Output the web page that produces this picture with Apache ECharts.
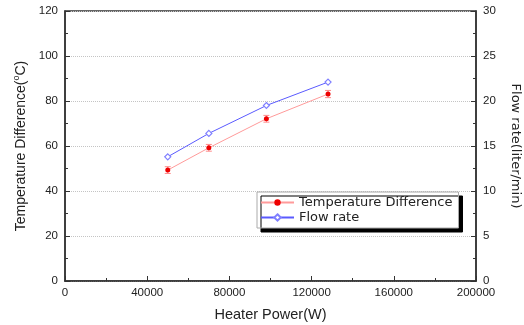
<!DOCTYPE html>
<html><head><meta charset="utf-8">
<script src="https://cdn.jsdelivr.net/npm/echarts@6/dist/echarts.min.js"></script>
<style>html,body{margin:0;padding:0;background:#fff}#c{width:524px;height:325px}</style>
</head><body><div id="c"></div>
<script>
var power = [50000, 70000, 98000, 128000];
var tempDiff = [49.3, 59.2, 72.1, 83.1];
var tempErr = [1.5, 1.5, 1.5, 1.6];
var flowRate = [13.8, 16.4, 19.5, 22.1];
var xTicks = [0, 40000, 80000, 120000, 160000, 200000];
var leftTicks = [0, 20, 40, 60, 80, 100, 120];
var rightTicks = [0, 5, 10, 15, 20, 25, 30];

var FONT = 'Liberation Sans';
var chart = echarts.init(document.getElementById('c'), null, {renderer: 'canvas'});
var axisLine = {lineStyle: {color: '#333', width: 1.5}};
var tempData = power.map(function (p, i) { return [p, tempDiff[i]]; });
var flowData = power.map(function (p, i) { return [p, flowRate[i]]; });
var errData = power.map(function (p, i) { return [p, tempDiff[i] - tempErr[i], tempDiff[i] + tempErr[i]]; });

chart.setOption({
  animation: false,
  textStyle: {fontFamily: FONT},
  grid: {left: 65, right: 48, top: 11, bottom: 44, show: true, borderColor: '#333', borderWidth: 1.5, containLabel: false, outerBoundsMode: 'none'},
  legend: {
    orient: 'vertical', left: 257, top: 192,
    backgroundColor: '#fff', borderColor: '#aaa', borderWidth: 1,
    shadowColor: '#000', shadowBlur: 0, shadowOffsetX: 4, shadowOffsetY: 4,
    padding: [4, 6, 4, 3], itemGap: 2, itemWidth: 33, itemHeight: 8,
    textStyle: {fontFamily: 'DejaVu Sans', fontSize: 13, color: '#222'},
    data: ['Temperature Difference', 'Flow rate']
  },
  xAxis: {
    type: 'value', min: xTicks[0], max: xTicks[xTicks.length - 1], interval: 40000,
    name: 'Heater Power(W)', nameLocation: 'middle', nameGap: 26,
    nameTextStyle: {fontSize: 14.5, color: '#222', fontFamily: FONT},
    axisLine: axisLine,
    axisTick: {inside: true, length: 5, lineStyle: {color: '#333'}},
    minorTick: {show: true, splitNumber: 2, length: 3, lineStyle: {color: '#333'}},
    axisLabel: {fontSize: 11.5, color: '#222', margin: 6, formatter: function (v) { return String(v); }},
    splitLine: {show: false}
  },
  yAxis: [{
    type: 'value', min: leftTicks[0], max: leftTicks[leftTicks.length - 1], interval: 20,
    name: 'Temperature Difference({s|o}C)', nameLocation: 'middle', nameGap: 33,
    nameTextStyle: {fontSize: 14, color: '#222', fontFamily: FONT, rich: {s: {fontSize: 9, verticalAlign: 'top', padding: [0, 0, 8, 0], color: '#222', fontFamily: FONT}}},
    axisLine: axisLine,
    axisTick: {inside: true, length: 5, lineStyle: {color: '#333'}},
    minorTick: {show: true, splitNumber: 2, length: 3, lineStyle: {color: '#333'}},
    axisLabel: {fontSize: 11.5, color: '#222', margin: 7},
    splitLine: {show: true, lineStyle: {type: 'dotted', color: '#c4c4c4', width: 1}}
  }, {
    type: 'value', position: 'right', min: rightTicks[0], max: rightTicks[rightTicks.length - 1], interval: 5,
    name: 'Flow rate(liter/min)', nameLocation: 'middle', nameGap: 33, nameRotate: -90,
    nameTextStyle: {fontSize: 13, color: '#222', fontFamily: 'DejaVu Sans'},
    axisLine: {show: true, lineStyle: {color: '#333', width: 1.5}},
    axisTick: {inside: true, length: 5, lineStyle: {color: '#333'}},
    minorTick: {show: true, splitNumber: 2, length: 3, lineStyle: {color: '#333'}},
    axisLabel: {fontSize: 11.5, color: '#222', margin: 7},
    splitLine: {show: false}
  }],
  series: [{
    name: 'Temperature Difference', type: 'line', data: tempData, yAxisIndex: 0,
    symbol: 'circle', symbolSize: 5,
    lineStyle: {color: '#ff9a9a', width: 1},
    itemStyle: {color: '#ee0000'}, color: '#ee0000'
  }, {
    name: 'Flow rate', type: 'line', data: flowData, yAxisIndex: 1,
    symbol: 'diamond', symbolSize: 6,
    lineStyle: {color: '#5a5aff', width: 1},
    itemStyle: {color: '#fff', borderColor: '#8080ff', borderWidth: 1.2}, color: '#5a5aff'
  }, {
    name: 'err', type: 'custom', yAxisIndex: 0, data: errData,
    encode: {x: 0, y: [1, 2]},
    renderItem: function (params, api) {
      var x = api.value(0);
      var lo = api.coord([x, api.value(1)]);
      var hi = api.coord([x, api.value(2)]);
      var w = 3;
      var st = {stroke: '#ff8a8a', lineWidth: 1};
      return {type: 'group', children: [
        {type: 'line', shape: {x1: lo[0], y1: lo[1], x2: hi[0], y2: hi[1]}, style: st},
        {type: 'line', shape: {x1: lo[0] - w, y1: lo[1], x2: lo[0] + w, y2: lo[1]}, style: st},
        {type: 'line', shape: {x1: hi[0] - w, y1: hi[1], x2: hi[0] + w, y2: hi[1]}, style: st}
      ]};
    },
    z: 1
  }]
});
</script></body></html>
